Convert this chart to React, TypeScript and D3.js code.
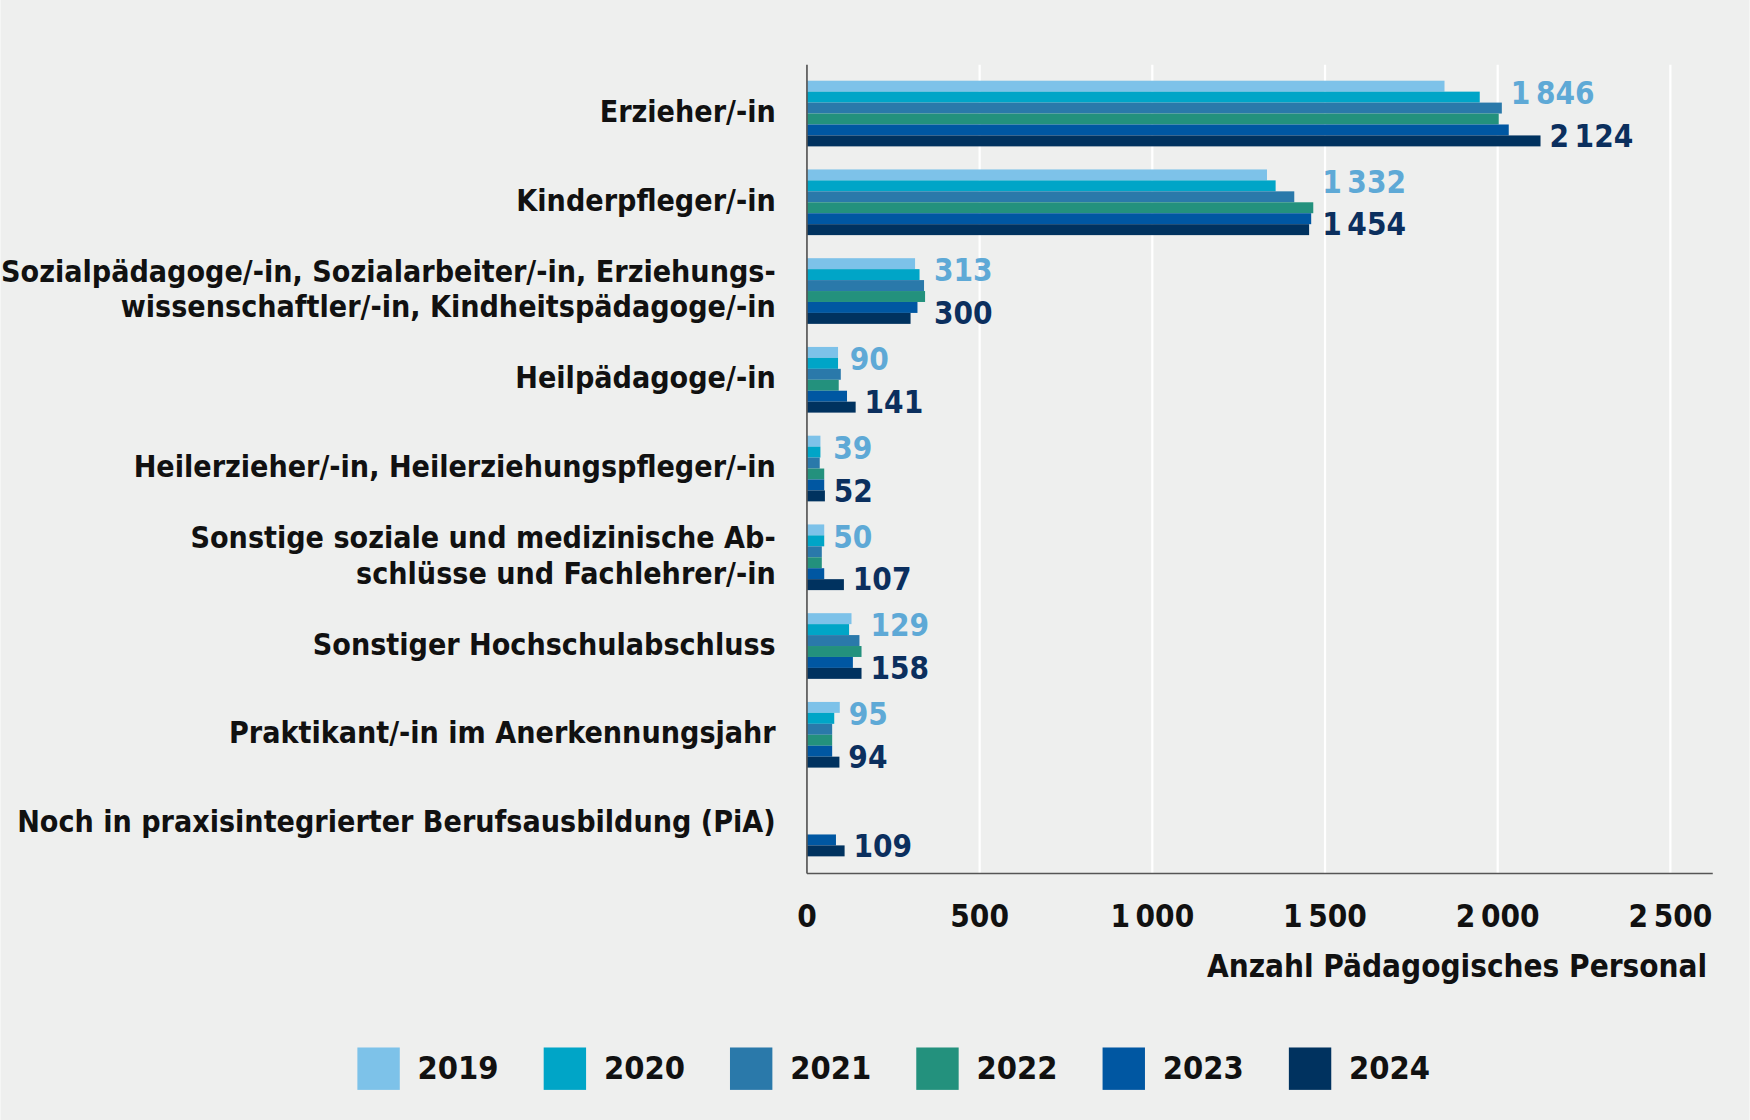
import React, { useEffect, useRef } from 'react';
import * as d3 from 'd3';

const categories: string[][] = [
  ['Erzieher/-in'],
  ['Kinderpfleger/-in'],
  ['Sozialpädagoge/-in, Sozialarbeiter/-in, Erziehungs-', 'wissenschaftler/-in, Kindheitspädagoge/-in'],
  ['Heilpädagoge/-in'],
  ['Heilerzieher/-in, Heilerziehungspfleger/-in'],
  ['Sonstige soziale und medizinische Ab-', 'schlüsse und Fachlehrer/-in'],
  ['Sonstiger Hochschulabschluss'],
  ['Praktikant/-in im Anerkennungsjahr'],
  ['Noch in praxisintegrierter Berufsausbildung (PiA)'],
];
const years = ['2019', '2020', '2021', '2022', '2023', '2024'];
const colors = ['#7dc2e9', '#00a5c7', '#2a79aa', '#23917d', '#0057a2', '#00325f'];
// values[category][year]
const values: (number | null)[][] = [
  [1846, 1948, 2012, 2003, 2032, 2124],
  [1332, 1357, 1411, 1466, 1460, 1454],
  [313, 326, 339, 342, 320, 300],
  [90, 90, 98, 92, 116, 141],
  [39, 39, 37, 50, 50, 52],
  [50, 50, 43, 43, 50, 107],
  [129, 122, 152, 158, 133, 158],
  [95, 79, 73, 73, 73, 94],
  [null, null, null, null, 84, 109],
];
const ticks = [0, 500, 1000, 1500, 2000, 2500];

const fmt = (v: number) => {
  const s = String(v);
  return s.length > 3 ? s.slice(0, -3) + '\u2009' + s.slice(-3) : s;
};

export default function App() {
  const ref = useRef<SVGSVGElement>(null);
  useEffect(() => {
    const svg = d3.select(ref.current);
    svg.selectAll('*').remove();
    const font = '"Liberation Sans Narrow", "DejaVu Sans Condensed", sans-serif';
    const left = 723, right = 1535, top = 62, bottom = 778;
    const x = d3.scaleLinear().domain([0, 2500]).range([left, 1497]);
    const y = d3.scaleBand<number>().domain(d3.range(categories.length)).range([top, bottom]).paddingInner(0.26).paddingOuter(0.13);
    const yi = d3.scaleBand<number>().domain(d3.range(years.length)).range([0, y.bandwidth()]);

    svg.append('rect').attr('width', 1568).attr('height', 1004).attr('fill', '#eeefee');

    svg.selectAll('line.grid').data(ticks.slice(1)).enter().append('line')
      .attr('x1', d => x(d)).attr('x2', d => x(d)).attr('y1', 58).attr('y2', 783)
      .attr('stroke', '#ffffff').attr('stroke-width', 2);

    const g = svg.append('g');
    values.forEach((row, ci) => {
      const y0 = y(ci)!;
      row.forEach((v, yi2) => {
        if (v == null) return;
        g.append('rect').attr('x', x(0)).attr('y', y0 + yi(yi2)!)
          .attr('width', x(v) - x(0)).attr('height', yi.bandwidth()).attr('fill', colors[yi2]);
      });
      const nums = row.map(v => v ?? 0);
      if (row[0] != null) {
        g.append('text').attr('x', x(d3.max(nums.slice(0, 4))!) + 8).attr('y', y0 + yi(1)! + 3)
          .attr('font-family', font).attr('font-weight', 'bold').attr('font-size', 28)
          .attr('fill', '#5ea9d6').attr('dominant-baseline', 'middle').text(fmt(row[0]!));
      }
      g.append('text').attr('x', x(d3.max(nums.slice(3, 6))!) + 8).attr('y', y0 + yi(5)! + 2)
        .attr('font-family', font).attr('font-weight', 'bold').attr('font-size', 28)
        .attr('fill', '#0b2f5e').attr('dominant-baseline', 'middle').text(fmt(row[5]!));

      const lines = categories[ci];
      const cy = y0 + y.bandwidth() / 2;
      lines.forEach((l, li) => {
        g.append('text').attr('x', 695).attr('y', cy + (li - (lines.length - 1) / 2) * 32)
          .attr('text-anchor', 'end').attr('dominant-baseline', 'middle')
          .attr('font-family', font).attr('font-weight', 'bold').attr('font-size', 27)
          .attr('fill', '#111').text(l);
      });
    });

    svg.append('line').attr('x1', left).attr('x2', left).attr('y1', 58).attr('y2', 783).attr('stroke', '#555').attr('stroke-width', 1.5);
    svg.append('line').attr('x1', left).attr('x2', right).attr('y1', 783).attr('y2', 783).attr('stroke', '#555').attr('stroke-width', 1.5);

    svg.selectAll('text.tick').data(ticks).enter().append('text')
      .attr('x', d => x(d)).attr('y', 823).attr('text-anchor', 'middle').attr('dominant-baseline', 'middle')
      .attr('font-family', font).attr('font-weight', 'bold').attr('font-size', 28).attr('fill', '#111')
      .text(d => fmt(d));
    svg.append('text').attr('x', 1530).attr('y', 868).attr('text-anchor', 'end').attr('dominant-baseline', 'middle')
      .attr('font-family', font).attr('font-weight', 'bold').attr('font-size', 28).attr('fill', '#111')
      .text('Anzahl Pädagogisches Personal');

    const lx = d3.scalePoint<string>().domain(years).range([320, 1155]);
    years.forEach((yr, i) => {
      svg.append('rect').attr('x', lx(yr)!).attr('y', 939).attr('width', 38).attr('height', 38).attr('fill', colors[i]);
      svg.append('text').attr('x', lx(yr)! + 54).attr('y', 959).attr('dominant-baseline', 'middle')
        .attr('font-family', font).attr('font-weight', 'bold').attr('font-size', 29).attr('fill', '#111').text(yr);
    });
  }, []);
  return (
    <svg ref={ref} width={1750} height={1120} viewBox="0 0 1568 1004"
      style={{ position: 'absolute', left: 0, top: 0 }} />
  );
}
